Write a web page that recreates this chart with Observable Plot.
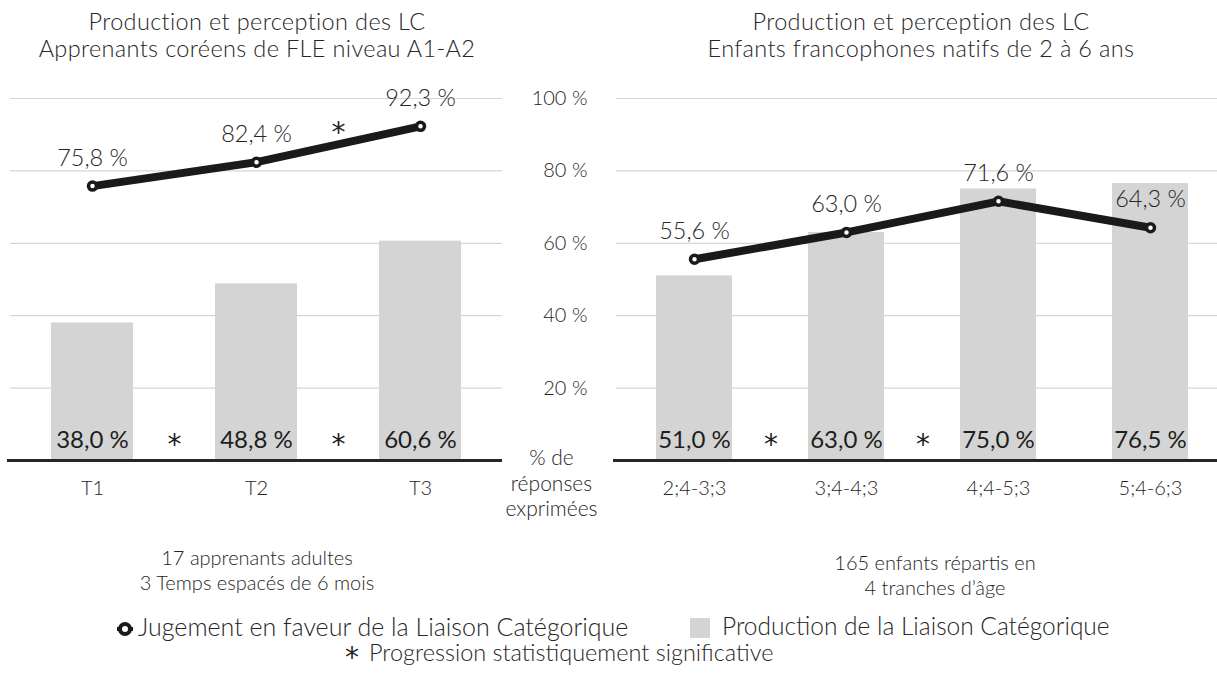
<!DOCTYPE html>
<html><head><meta charset="utf-8">
<script src="https://cdn.jsdelivr.net/npm/d3@7"></script>
<script src="https://cdn.jsdelivr.net/npm/@observablehq/plot@0.6"></script>
<style>
body{margin:0;background:#fff;}
#root{position:relative;width:1217px;height:673px;overflow:hidden;font-family:Lato,"Open Sans",sans-serif;font-weight:300;color:#262626;}
.t{position:absolute;text-align:center;white-space:nowrap;transform:translateX(-50%);}
.title{font-size:23.5px;line-height:27px;letter-spacing:0.35px;}
.cap{font-size:20px;line-height:25px;}
.leg{position:absolute;font-size:25px;line-height:26px;white-space:nowrap;}
.star{font-family:"DejaVu Sans",sans-serif;font-size:28px;font-weight:400;}
.panel{position:absolute;top:80px;}
.panel svg{max-width:none !important;overflow:visible;background:transparent;}
</style></head><body><div id="root"></div>
<script>
// ---- data ----
const adultTimes = ["T1", "T2", "T3"];
const adultProduction = [38.0, 48.8, 60.6];
const adultJudgement = [75.8, 82.4, 92.3];
const adultProdSignif = ["T1", "T2"];      // significant progression after these
const adultJudgSignif = ["T2"];
const childAges = ["2;4-3;3", "3;4-4;3", "4;4-5;3", "5;4-6;3"];
const childProduction = [51.0, 63.0, 75.0, 76.5];
const childJudgement = [55.6, 63.0, 71.6, 64.3];
const childProdSignif = ["2;4-3;3", "3;4-4;3"];
const childJudgSignif = [];
const yTicks = [20, 40, 60, 80, 100];
const titles = [
  "Production et perception des LC\nApprenants coréens de FLE niveau A1-A2",
  "Production et perception des LC\nEnfants francophones natifs de 2 à 6 ans"
];
const captions = [
  "17 apprenants adultes\n3 Temps espacés de 6 mois",
  "165 enfants répartis en\n4 tranches d’âge"
];
const yLabel = "% de\nréponses\nexprimées";
const legendJudg = "Jugement en faveur de la Liaison Catégorique";
const legendProd = "Production de la Liaison Catégorique";
const legendSig = "Progression statistiquement significative";

const fmt = v => v.toFixed(1).replace(".", ",") + " %";
const FONT = "Lato, 'Open Sans', sans-serif";
const STARFONT = "'DejaVu Sans', sans-serif";
const INK = "#262626";

function panel({cats, prod, judg, prodSig, judgSig, width, marginLeft, marginRight, axis}) {
  const rows = cats.map((c, i) => ({cat: c, prod: prod[i], judg: judg[i]}));
  const step = (width - marginLeft - marginRight) / cats.length;
  const nextMean = c => { const i = cats.indexOf(c); return (judg[i] + judg[i + 1]) / 2; };
  const marks = [
    Plot.gridY(yTicks, {stroke: "#d6d6d6", strokeOpacity: 1, strokeWidth: 1.2}),
    Plot.barY(rows, {x: "cat", y: "prod", fill: "#d4d4d4"}),
    Plot.ruleY([0], {stroke: INK, strokeWidth: 3, insetLeft: -3}),
    Plot.text(rows, {x: "cat", y: 0, text: d => fmt(d.prod), dy: -20, fontSize: 24, fontWeight: 400, fill: "#1e1e1e"}),
    Plot.text(prodSig, {x: d => d, y: 0, text: () => "*", dx: step / 2, dy: -15, fontSize: 28, fontWeight: 400, fontFamily: STARFONT, fill: "#1e1e1e"}),
    Plot.line(rows, {x: "cat", y: "judg", stroke: "#1a1a1a", strokeWidth: 8, strokeLinejoin: "round", strokeLinecap: "round"}),
    Plot.dot(rows, {x: "cat", y: "judg", r: 4, fill: "white", stroke: "#1a1a1a", strokeWidth: 3.5}),
    Plot.text(rows, {x: "cat", y: "judg", text: d => fmt(d.judg), dy: -28, fontSize: 23.5, fontWeight: 300, fill: INK}),
    Plot.text(judgSig, {x: d => d, y: nextMean, text: () => "*", dx: step / 2, dy: -11, fontSize: 28, fontWeight: 400, fontFamily: STARFONT, fill: INK}),
    Plot.axisX({tickSize: 0, tickPadding: 20, fontSize: 20, fontWeight: 300, fill: INK, label: null})
  ];
  if (axis) {
    marks.push(
      Plot.axisY(yTicks, {tickSize: 0, tickPadding: 29, tickFormat: d => d + " %", fontSize: 20, fontWeight: 300, fill: INK, label: null}),
      Plot.text([0], {y: d => d, frameAnchor: "left", text: () => yLabel, dx: -65, dy: 22, textAnchor: "middle", lineAnchor: "middle", lineHeight: 1.2, fontSize: 21, fontWeight: 300, fill: INK})
    );
  } else {
    marks.push(Plot.axisY({ticks: [], label: null}));
  }
  return Plot.plot({
    width, height: 440,
    marginTop: 18, marginBottom: 60, marginLeft, marginRight,
    style: {fontFamily: FONT, color: INK, background: "transparent", overflow: "visible"},
    x: {type: "band", domain: cats, paddingInner: 0.5, paddingOuter: 0.25},
    y: {domain: [0, 100]},
    marks
  });
}

const root = document.getElementById("root");
function addDiv(cls, text, css) {
  const d = document.createElement("div");
  d.className = cls;
  d.innerHTML = text.split("\n").join("<br>");
  Object.assign(d.style, css);
  root.appendChild(d);
  return d;
}

const left = panel({cats: adultTimes, prod: adultProduction, judg: adultJudgement, prodSig: adultProdSignif, judgSig: adultJudgSignif, width: 505, marginLeft: 10, marginRight: 3, axis: false});
const right = panel({cats: childAges, prod: childProduction, judg: childJudgement, prodSig: childProdSignif, judgSig: childJudgSignif, width: 727, marginLeft: 116, marginRight: 0, axis: true});
const lw = document.createElement("div"); lw.className = "panel"; lw.style.left = "0px"; lw.appendChild(left); root.appendChild(lw);
const rw = document.createElement("div"); rw.className = "panel"; rw.style.left = "500px"; rw.appendChild(right); root.appendChild(rw);

addDiv("t title", titles[0], {left: "257px", top: "8px"});
addDiv("t title", titles[1], {left: "921px", top: "8px"});
addDiv("t cap", captions[0], {left: "257px", top: "545px"});
addDiv("t cap", captions[1], {left: "935px", top: "550px"});

// legend
const ring = `<svg width="20" height="18" style="vertical-align:-2px;margin-right:3px"><line x1="2" y1="9" x2="18" y2="9" stroke="#1a1a1a" stroke-width="4"/><circle cx="10" cy="9" r="5" fill="white" stroke="#1a1a1a" stroke-width="4"/></svg>`;
addDiv("leg", ring + legendJudg, {left: "115px", top: "613px"});
addDiv("leg", `<span style="display:inline-block;width:20px;height:20px;background:#d4d4d4;vertical-align:-3px;margin-right:12px"></span>` + legendProd, {left: "690px", top: "613px", fontSize: "24.5px"});
addDiv("leg", `<span class="star" style="margin-right:10px;vertical-align:-6px">*</span>` + legendSig, {left: "345px", top: "639px", fontSize: "23.5px"});
</script></body></html>
